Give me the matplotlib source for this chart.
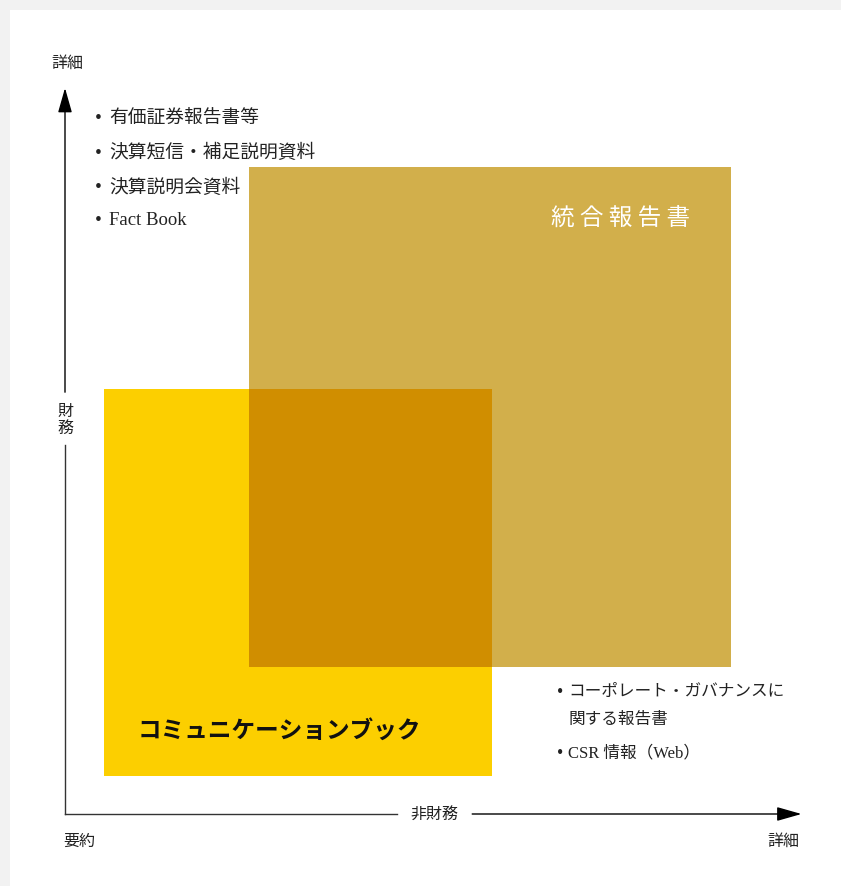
import matplotlib
matplotlib.use("Agg")
import matplotlib.pyplot as plt
from matplotlib.patches import Rectangle
import matplotlib.colors as mcolors
import numpy as np

plt.rcParams['font.family'] = ['Noto Sans CJK JP', 'DejaVu Sans']
MIXED = ['Liberation Serif', 'Noto Sans CJK JP', 'DejaVu Sans']

# ---- data ----
report_names = ["統合報告書", "コミュニケーションブック"]
report_x = [(25.0, 90.6), (5.3, 58.1)]      # 非財務 (要約 -> 詳細)
report_y = [(20.2, 89.1), (5.2, 58.5)]      # 財務 (要約 -> 詳細)
report_colors = ["#D2AF4B", "#FCCF00"]
report_text_colors = ["white", "#111111"]
report_label_pos = [(75.6, 82.0), (29.1, 11.4)]

fin_items = ["有価証券報告書等", "決算短信・補足説明資料", "決算説明会資料", "Fact Book"]
fin_items_y = [95.8, 91.0, 86.3, 81.7]
nonfin_items = ["コーポレート・ガバナンスに\n関する報告書", "CSR 情報（Web）"]
nonfin_items_y = [16.8, 8.4]

# ---- figure ----
W, H = 841, 886
fig = plt.figure(figsize=(W / 100, H / 100), dpi=100)
fig.patch.set_facecolor("#F2F2F2")

ax = fig.add_axes([0, 0, 1, 1])
ax.set_facecolor("none")
sx, sy = 7.35, 7.26
ox, oy = 65, 814
ax.set_xlim(-ox / sx, (W - ox) / sx)
ax.set_ylim((oy - H) / sy, oy / sy)
ax.axis("off")
ax.add_patch(Rectangle((10 / W, 0), 1 - 10 / W, 1 - 10 / H, transform=ax.transAxes,
                       facecolor="white", edgecolor="none", zorder=0))

# rectangles
for (x0, x1), (y0, y1), c in zip(report_x[::-1], report_y[::-1], report_colors[::-1]):
    ax.add_patch(Rectangle((x0, y0), x1 - x0, y1 - y0, facecolor=c, edgecolor="none", zorder=1))

# overlap (multiply blend)
ix0 = max(report_x[0][0], report_x[1][0]); ix1 = min(report_x[0][1], report_x[1][1])
iy0 = max(report_y[0][0], report_y[1][0]); iy1 = min(report_y[0][1], report_y[1][1])
mult = np.array(mcolors.to_rgb(report_colors[0])) * np.array(mcolors.to_rgb(report_colors[1]))
ax.add_patch(Rectangle((ix0, iy0), ix1 - ix0, iy1 - iy0, facecolor=tuple(mult), edgecolor="none", zorder=2))

# labels in rectangles
ax.text(*report_label_pos[0], " ".join(report_names[0]), color=report_text_colors[0],
        fontsize=17, ha="center", va="center", zorder=3)
ax.text(*report_label_pos[1], report_names[1], color=report_text_colors[1],
        fontsize=17, fontweight="bold", ha="center", va="center", zorder=3)

# axes
axis_col = "#333333"
txt_col = "#222222"
arrow_style = "-|>,head_length=0.95,head_width=0.27"
ax.plot([0, 0], [0, 50.8], color=axis_col, lw=1, zorder=3)
ax.annotate("", xy=(0, 100), xytext=(0, 58.1),
            arrowprops=dict(arrowstyle=arrow_style, color="black", lw=1,
                            mutation_scale=16, shrinkA=0, shrinkB=0), zorder=3)
ax.plot([0, 45.2], [0, 0], color=axis_col, lw=1, zorder=3)
ax.annotate("", xy=(100.2, 0), xytext=(55.4, 0),
            arrowprops=dict(arrowstyle=arrow_style, color="black", lw=1,
                            mutation_scale=16, shrinkA=0, shrinkB=0), zorder=3)

ax.text(0, 54.3, "財\n務", fontsize=11.5, ha="center", va="center", color=txt_col,
        linespacing=1.0)
ax.text(50.3, -0.2, "非財務", fontsize=11.5, ha="center", va="center", color=txt_col)
ax.text(0.3, 103.4, "詳細", fontsize=11.5, ha="center", va="center", color=txt_col)
ax.text(2.0, -3.8, "要約", fontsize=11.5, ha="center", va="center", color=txt_col)
ax.text(97.7, -3.8, "詳細", fontsize=11.5, ha="center", va="center", color=txt_col)

# bullet lists
for y, t in zip(fin_items_y, fin_items):
    ax.text(4.6, y, "•", fontsize=14, ha="center", va="center", color=txt_col, family=MIXED)
    ax.text(6.0, y, t, fontsize=13.5, ha="left", va="center", color=txt_col, family=MIXED)

for y, t in zip(nonfin_items_y, nonfin_items):
    ax.text(67.3, y, "•", fontsize=13, ha="center", va="center", color=txt_col, family=MIXED)
    lines = t.split("\n")
    for k, line in enumerate(lines):
        ax.text(68.5, y - 3.9 * k, line, fontsize=12, ha="left", va="center",
                color=txt_col, family=MIXED)

fig.savefig("out.png", dpi=100, facecolor=fig.get_facecolor())
